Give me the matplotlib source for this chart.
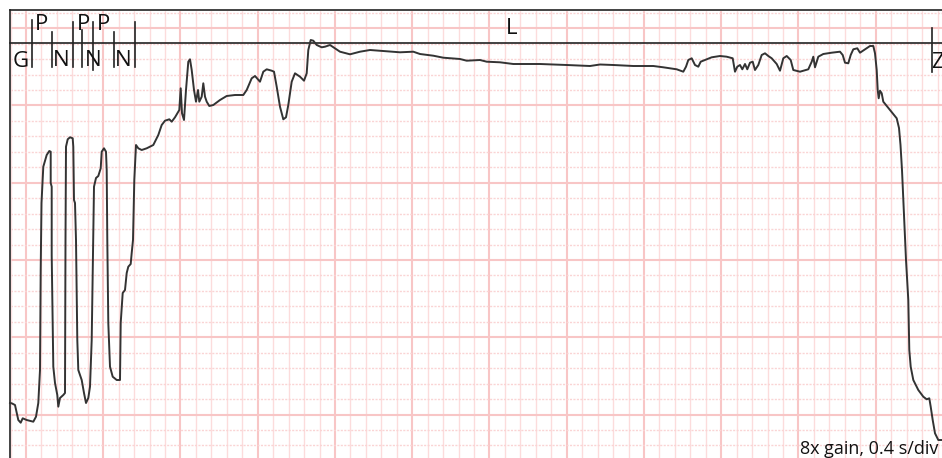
import numpy as np
import matplotlib
matplotlib.use("Agg")
import matplotlib.pyplot as plt

# trace (x = px from left, y = px from top)
trace_x = [10, 11.7, 15, 18.3, 20.7, 22.7, 26.7, 33.3, 36, 38.3, 40, 40.7, 41.5, 42.7, 43.3, 46.7, 49.3, 50.7,
           50.7, 51.7, 51.7, 52.7, 53.3, 55, 57.3, 58.3, 60, 63.3, 65,
           65.5, 66, 67.7, 70, 72.7, 73.3, 74, 75, 76,
           77.3, 78.3, 81.7, 84, 86, 88.3, 90, 91.7, 92.7, 93.3,
           94, 96, 98.3, 100.7, 101.7, 104, 106, 106.7, 107.3,
           108.3, 110, 112.7, 116.7, 120, 120.7, 122.7, 125, 126.7, 128.3, 130.7, 131.7, 133,
           134.3, 136, 138.3, 141.7, 146.7, 150, 153.3, 158.3, 161.7, 165, 169.3, 171.7, 175, 179.3,
           180.7, 182, 184, 186, 188.3, 190, 191.7, 194, 196, 198, 199.3, 201.7, 203.3, 205, 206.7,
           209.3, 213.3, 220, 226.7, 235, 243.3, 246.7, 251.7, 255, 260, 263.3, 266.7, 271.7, 274,
           276.7, 280, 283.3, 286, 288.3, 291.7, 295, 300, 304, 306.7, 308.3, 310.7, 313.3, 316.7,
           321.7, 325, 330, 335, 340, 350, 360, 370, 383.3, 400, 413.3, 420, 433.3, 443.3, 460,
           466.7, 480, 486.7, 500, 513.3, 540, 566.7, 590, 600, 613.3, 633.3, 653.3, 663.3, 676.7,
           683.3, 686, 688.3, 691.7, 695, 698.3, 700.7, 705, 711.7, 720, 726.7, 732.7, 735, 737.3,
           740, 742.3, 745, 747.3, 750, 752.7, 755, 758.3, 761.7, 765, 768.3, 771.7, 776.7, 780,
           783.3, 786.7, 790.7, 793.3, 800, 808.3, 811.7, 813.3, 815, 818.3, 823.3, 831.7, 840,
           842.7, 845, 848.3, 850.7, 853.3, 857.3, 860, 865, 870, 873.3, 875, 876.7, 877.7, 878.7,
           880, 881.7, 883.3, 890, 896.7, 899, 900.5, 902, 904, 906, 908.3, 909.3, 910.7, 913.3,
           918.3, 923.3, 926.7, 929.3, 930.7, 932.7, 935, 938.3, 942]
trace_y = [403, 403.3, 405, 420, 422.7, 418.3, 420, 421.7, 416.7, 403, 370, 270, 203, 180, 166.7, 155, 151, 151.7,
           183, 186.7, 255, 323, 366.7, 383, 395, 406.7, 398, 395, 393,
           240, 146.7, 139.3, 137.3, 138.3, 146.7, 200, 203, 240,
           340, 370, 380, 393, 403, 398, 386.7, 340, 273, 240,
           186.7, 178, 176, 168.3, 151.7, 148.3, 151.7, 170, 240,
           323, 366.7, 376.7, 380, 380, 323, 293, 290, 273, 266.7, 264, 253, 240,
           180, 145, 148.3, 150, 148.3, 146.7, 145, 135, 125, 120.7, 119.3, 121.7, 117.3, 110,
           88.3, 113.3, 120, 90, 61.7, 59.3, 70, 90, 101.7, 90, 101.7, 96.7, 83.3, 96.7, 101.7,
           106, 105, 100, 96, 95, 95, 90, 78.3, 76, 81.7, 71.7, 69.3, 70.7, 71.7,
           86.7, 106.7, 119.3, 117.3, 105, 81.7, 73.3, 76.7, 80.7, 73.3, 50, 40, 40.7, 45,
           47.3, 46.7, 45, 48.3, 51.7, 54.3, 51.7, 50, 51, 52.3, 51.7, 54, 55.7, 57.7, 59,
           60.7, 60, 61.7, 62.3, 64, 64, 65, 66, 64.5, 65, 66, 66, 67.3, 69.3,
           71.7, 66.7, 60, 58.3, 65, 66.7, 61.7, 60, 57.3, 56, 56.7, 58.3, 71.7, 66.7,
           65, 69.3, 64, 69.3, 62.7, 61.7, 70, 65, 55, 53.3, 56, 58.3, 64, 70.7,
           58.3, 56, 60, 70, 71.7, 69.3, 61.7, 56.7, 67.3, 56.7, 54, 52.7, 51.7,
           55, 62.7, 63.3, 55, 49.3, 48.3, 52.7, 49.3, 46, 46, 53.3, 70, 90, 98.3,
           90.7, 93.3, 101.7, 110, 118.3, 128, 145, 170, 215, 260, 300, 350, 366.7, 380,
           390, 396.7, 399.3, 398.3, 406.7, 420, 433.3, 440, 440]

# event markers in the header strip
marker_x = [32, 52, 73, 82, 93, 114, 135, 932]
marker_top = [20, 32, 22, 30, 22, 32, 22, 28]
marker_bottom = [67, 67, 67, 67, 70, 67, 67, 72]
label_text = ["G", "P", "N", "P", "N", "P", "N", "L", "Z"]
label_x = [21, 41.5, 61, 83.5, 93, 103.5, 123.5, 512, 937]
label_y = [61.5, 25, 61, 25, 61, 25, 61, 28, 62]

W, H = 942, 458
fig = plt.figure(figsize=(W / 100, H / 100), dpi=100)
ax = fig.add_axes([0, 0, 1, 1])
ax.set_xlim(0, W)
ax.set_ylim(H, 0)
ax.axis("off")

# ECG-style paper grid
step = 15.45
for k in range(62):
    x = 10.5 + step * k
    if k % 5 == 1:
        ax.axvline(x, color="#f8c6c6", lw=1.5, zorder=1)
    else:
        ax.axvline(x, color="#fcdcdc", lw=1.0, zorder=1)
for k in range(30):
    y = 12.8 + step * k
    if k % 5 == 1:
        ax.axhline(y, color="#f8c6c6", lw=1.5, zorder=1)
    else:
        ax.axhline(y, color="#fad4d4", lw=1.0, ls=(0, (1.5, 1)), zorder=1)

ax.fill_between([0, 10], 0, H, color="white", zorder=2)
ax.fill_between([0, W], 0, 10, color="white", zorder=2)

# frame and header line
ax.plot([10, 10], [10, H], color="#222222", lw=1.2, zorder=3)
ax.plot([10, W], [10, 10], color="#222222", lw=1.2, zorder=3)
ax.plot([10, W], [43, 43], color="#222222", lw=1.2, zorder=3)

for x, y0, y1 in zip(marker_x, marker_top, marker_bottom):
    ax.plot([x, x], [y0, y1], color="#222222", lw=1.2, zorder=3)

for t, x, y in zip(label_text, label_x, label_y):
    ax.text(x, y, t, ha="center", va="center", fontsize=16, color="#111111",
            family="Open Sans", zorder=4)

ax.plot(trace_x, trace_y, color="#333333", lw=1.4, zorder=5, solid_joinstyle="round")

ax.text(800, 454, "8x gain, 0.4 s/div", ha="left", va="baseline", fontsize=13,
        color="#111111", family="Open Sans", zorder=4)

fig.savefig("out.png", dpi=100)
